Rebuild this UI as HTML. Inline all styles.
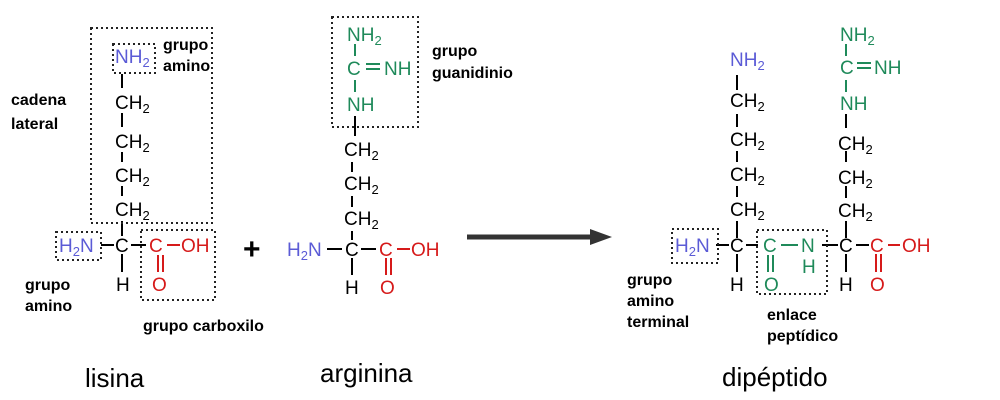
<!DOCTYPE html>
<html><head><meta charset="utf-8"><style>
html,body{margin:0;padding:0;background:#fff;width:1000px;height:400px;overflow:hidden}
svg{display:block}
text{font-family:"Liberation Sans",sans-serif;font-size:19px}
.b{fill:#5b5bd6}.g{fill:#1f8a5a}.r{fill:#d61a1a}.k{fill:#000}
.lb{font-size:16px;font-weight:bold}
.big{font-size:26px}
.s{font-size:13px}
.bx{fill:none;stroke:#222;stroke-width:2;stroke-dasharray:2 3}
</style></head><body>
<svg width="1000" height="400" viewBox="0 0 1000 400">
<g stroke="#000" stroke-width="2">
<line x1="122" y1="74" x2="122" y2="88"/><line x1="122" y1="113" x2="122" y2="127"/><line x1="122" y1="152" x2="122" y2="162"/><line x1="122" y1="186" x2="122" y2="196"/><line x1="122" y1="221" x2="122" y2="236"/>
<line x1="101" y1="245" x2="114" y2="245"/><line x1="131" y1="245" x2="146" y2="245"/><line x1="122" y1="254" x2="122" y2="272"/>
<line x1="355" y1="116" x2="355" y2="136"/><line x1="352" y1="162" x2="352" y2="172"/><line x1="352" y1="196" x2="352" y2="207"/><line x1="352" y1="231" x2="352" y2="240"/>
<line x1="327" y1="249" x2="342" y2="249"/><line x1="361" y1="249" x2="376" y2="249"/><line x1="352" y1="258" x2="352" y2="275"/>
<line x1="737" y1="75" x2="737" y2="90"/><line x1="737" y1="114" x2="737" y2="127"/><line x1="737" y1="151" x2="737" y2="162"/><line x1="737" y1="186" x2="737" y2="197"/><line x1="737" y1="221" x2="737" y2="238"/>
<line x1="716" y1="245" x2="729" y2="245"/><line x1="746" y1="245" x2="758" y2="245"/><line x1="737" y1="254" x2="737" y2="272"/>
<line x1="822" y1="245" x2="838" y2="245"/><line x1="856" y1="245" x2="869" y2="245"/><line x1="846" y1="254" x2="846" y2="272"/>
<line x1="846" y1="114" x2="846" y2="128"/><line x1="846" y1="151" x2="846" y2="162"/><line x1="846" y1="186" x2="846" y2="198"/><line x1="846" y1="221" x2="846" y2="238"/>
</g>
<g stroke="#d61a1a" stroke-width="2">
<line x1="167" y1="245" x2="180" y2="245"/><line x1="158" y1="255" x2="158" y2="272"/><line x1="163" y1="255" x2="163" y2="272"/>
<line x1="397" y1="249" x2="410" y2="249"/><line x1="386" y1="258" x2="386" y2="275"/><line x1="391" y1="258" x2="391" y2="275"/>
<line x1="888" y1="245" x2="900" y2="245"/><line x1="876" y1="254" x2="876" y2="272"/><line x1="881" y1="254" x2="881" y2="272"/>
</g>
<g stroke="#1f8a5a" stroke-width="2">
<line x1="355" y1="44" x2="355" y2="56"/><line x1="355" y1="80" x2="355" y2="92"/><line x1="366" y1="64" x2="380" y2="64"/><line x1="366" y1="69" x2="380" y2="69"/>
<line x1="846" y1="44" x2="846" y2="56"/><line x1="846" y1="80" x2="846" y2="92"/><line x1="857" y1="63" x2="871" y2="63"/><line x1="857" y1="68" x2="871" y2="68"/>
<line x1="781" y1="245" x2="798" y2="245"/><line x1="768" y1="255" x2="768" y2="272"/><line x1="773" y1="255" x2="773" y2="272"/>
</g>
<rect class="bx" x="91" y="28" width="121" height="195"/>
<rect class="bx" x="113" y="44" width="42" height="29"/>
<rect class="bx" x="56" y="232" width="45" height="28"/>
<rect class="bx" x="141" y="230" width="74" height="70"/>
<rect class="bx" x="332" y="17" width="86" height="110"/>
<rect class="bx" x="672" y="229" width="46" height="34"/>
<rect class="bx" x="757" y="230" width="70" height="64"/>
<text class="b" x="115" y="63">NH<tspan class="s" dy="4">2</tspan></text>
<text x="115" y="109">CH<tspan class="s" dy="4">2</tspan></text>
<text x="115" y="148">CH<tspan class="s" dy="4">2</tspan></text>
<text x="115" y="182">CH<tspan class="s" dy="4">2</tspan></text>
<text x="115" y="216">CH<tspan class="s" dy="4">2</tspan></text>
<text class="b" x="59" y="252">H<tspan class="s" dy="4">2</tspan><tspan dy="-4">N</tspan></text>
<text x="115" y="252">C</text>
<text class="r" x="149" y="252">C</text>
<text class="r" x="181" y="252">OH</text>
<text x="116" y="291">H</text>
<text class="r" x="152" y="291">O</text>
<text class="lb" x="163" y="50">grupo</text><text class="lb" x="163" y="71">amino</text>
<text class="lb" x="11" y="105">cadena</text><text class="lb" x="11" y="129">lateral</text>
<text class="lb" x="25" y="290">grupo</text><text class="lb" x="25" y="311">amino</text>
<text class="lb" x="143" y="331">grupo carboxilo</text>
<text x="243" y="259" style="font-size:30px;font-weight:bold">+</text>
<text class="big" x="85" y="387">lisina</text>
<text class="g" x="347" y="41">NH<tspan class="s" dy="4">2</tspan></text>
<text class="g" x="347" y="75">C</text><text class="g" x="384" y="75">NH</text>
<text class="g" x="347" y="111">NH</text>
<text x="344" y="156">CH<tspan class="s" dy="4">2</tspan></text>
<text x="344" y="190">CH<tspan class="s" dy="4">2</tspan></text>
<text x="344" y="225">CH<tspan class="s" dy="4">2</tspan></text>
<text class="b" x="287" y="256">H<tspan class="s" dy="4">2</tspan><tspan dy="-4">N</tspan></text>
<text x="345" y="256">C</text>
<text class="r" x="379" y="256">C</text>
<text class="r" x="411" y="256">OH</text>
<text x="345" y="294">H</text>
<text class="r" x="380" y="294">O</text>
<text class="lb" x="432" y="56">grupo</text><text class="lb" x="432" y="78">guanidinio</text>
<text class="big" x="320" y="382">arginina</text>
<line x1="467" y1="237" x2="592" y2="237" stroke="#333" stroke-width="5"/>
<polygon points="590,229 612,237 590,245" fill="#333"/>
<text class="b" x="730" y="66">NH<tspan class="s" dy="4">2</tspan></text>
<text x="730" y="107">CH<tspan class="s" dy="4">2</tspan></text>
<text x="730" y="146">CH<tspan class="s" dy="4">2</tspan></text>
<text x="730" y="181">CH<tspan class="s" dy="4">2</tspan></text>
<text x="730" y="216">CH<tspan class="s" dy="4">2</tspan></text>
<text class="b" x="675" y="252">H<tspan class="s" dy="4">2</tspan><tspan dy="-4">N</tspan></text>
<text x="730" y="252">C</text>
<text class="g" x="763" y="252">C</text>
<text class="g" x="801" y="252">N</text>
<text class="g" x="802" y="273">H</text>
<text class="g" x="764" y="291">O</text>
<text x="730" y="291">H</text>
<text x="839" y="252">C</text>
<text class="r" x="870" y="252">C</text>
<text class="r" x="902" y="252">OH</text>
<text x="839" y="291">H</text>
<text class="r" x="870" y="291">O</text>
<text class="g" x="840" y="41">NH<tspan class="s" dy="4">2</tspan></text>
<text class="g" x="840" y="74">C</text><text class="g" x="874" y="74">NH</text>
<text class="g" x="840" y="110">NH</text>
<text x="838" y="150">CH<tspan class="s" dy="4">2</tspan></text>
<text x="838" y="184">CH<tspan class="s" dy="4">2</tspan></text>
<text x="838" y="217">CH<tspan class="s" dy="4">2</tspan></text>
<text class="lb" x="627" y="285">grupo</text><text class="lb" x="627" y="306">amino</text><text class="lb" x="627" y="327">terminal</text>
<text class="lb" x="767" y="320">enlace</text><text class="lb" x="767" y="341">peptídico</text>
<text class="big" x="722" y="386">dipéptido</text>
</svg>
</body></html>
